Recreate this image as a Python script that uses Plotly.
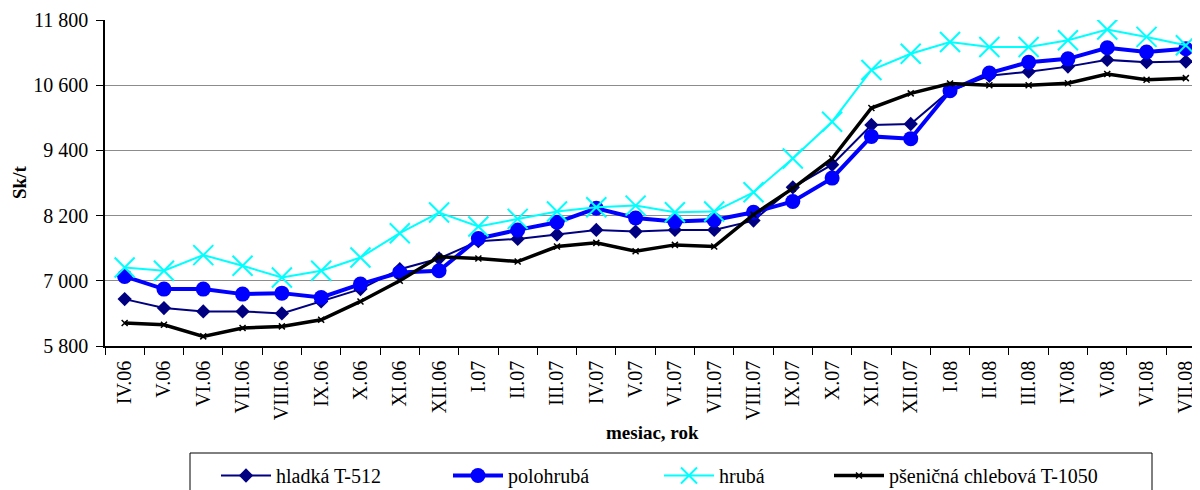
import plotly.graph_objects as go

months = ["IV.06", "V.06", "VI.06", "VII.06", "VIII.06", "IX.06", "X.06", "XI.06", "XII.06",
          "I.07", "II.07", "III.07", "IV.07", "V.07", "VI.07", "VII.07", "VIII.07", "IX.07",
          "X.07", "XI.07", "XII.07", "I.08", "II.08", "III.08", "IV.08", "V.08", "VI.08", "VII.08"]

hladka = [6663, 6498, 6436, 6436, 6400, 6620, 6847, 7214, 7410,
          7730, 7771, 7851, 7937, 7906, 7937, 7937, 8108, 8720,
          9136, 9868, 9886, 10498, 10774, 10849, 10942, 11066, 11023, 11035]
polohruba = [7080, 6847, 6847, 6755, 6773, 6694, 6939, 7153, 7184,
             7778, 7937, 8077, 8335, 8157, 8090, 8120, 8261, 8460,
             8890, 9658, 9616, 10498, 10824, 11023, 11085, 11290, 11210, 11272]
hruba = [7245, 7184, 7472, 7276, 7061, 7184, 7429, 7876, 8256,
         7999, 8139, 8274, 8353, 8384, 8261, 8274, 8629, 9250,
         9928, 10880, 11178, 11396, 11303, 11303, 11427, 11626, 11489, 11334]
psenicna = [6222, 6191, 5977, 6130, 6161, 6283, 6620, 7000, 7441,
            7410, 7354, 7630, 7698, 7545, 7661, 7630, 8218, 8700,
            9250, 10180, 10450, 10631, 10600, 10600, 10637, 10805, 10700, 10730]

y_ticks = [5800, 7000, 8200, 9400, 10600, 11800]
y_tick_text = ["5 800", "7 000", "8 200", "9 400", "10 600", "11 800"]

FONT = "Liberation Serif, Times New Roman, serif"

# page body has an 8px margin; figure is sized to fill the rest of the window
OFF = 8
FW, FH = 1200 - OFF, 490 - OFF
ML, MT, MB = 105 - OFF, 20 - OFF, FH - (346 - OFF)
PW, PH = FW - ML, FH - MT - MB


def px_x(sx):
    return (sx - OFF - ML) / PW


def px_y(sy):
    return (FH - MB - (sy - OFF)) / PH


fig = go.Figure()
fig.add_trace(go.Scatter(
    x=months, y=hladka, name="hladká T-512", mode="lines+markers", legend="legend",
    line=dict(color="#000080", width=2),
    marker=dict(symbol="diamond", size=11, color="#000080")))
fig.add_trace(go.Scatter(
    x=months, y=polohruba, name="polohrubá", mode="lines+markers", legend="legend2",
    line=dict(color="#0000FF", width=4),
    marker=dict(symbol="circle", size=15, color="#0000FF")))
fig.add_trace(go.Scatter(
    x=months, y=hruba, name="hrubá", mode="lines+markers", legend="legend3",
    line=dict(color="#00FFFF", width=2),
    marker=dict(symbol="x-thin-open", size=20, color="#00FFFF",
                line=dict(color="#00FFFF", width=2))))
fig.add_trace(go.Scatter(
    x=months, y=psenicna, name="pšeničná chlebová T-1050", mode="lines+markers", legend="legend4",
    line=dict(color="#000000", width=3.5),
    marker=dict(symbol="x-thin-open", size=6, color="#000000",
                line=dict(color="#000000", width=1.5))))


def leg(sx):
    return dict(orientation="h", xref="container", yref="container",
                x=(sx - OFF) / FW, y=1 - (456 - OFF) / FH, xanchor="left", yanchor="top",
                borderwidth=0, bgcolor="rgba(0,0,0,0)", itemwidth=50,
                font=dict(family=FONT, size=20, color="black"))


fig.update_layout(
    width=FW, height=FH, autosize=False,
    margin=dict(l=ML, r=0, t=MT, b=MB, pad=0),
    paper_bgcolor="white", plot_bgcolor="white",
    font=dict(family=FONT, size=20, color="black"),
    showlegend=True,
    legend=leg(216), legend2=leg(448), legend3=leg(659), legend4=leg(829),
    shapes=[dict(type="rect", xref="paper", yref="paper",
                 x0=px_x(190), x1=px_x(1152), y0=px_y(495), y1=px_y(453),
                 line=dict(color="black", width=1), fillcolor="rgba(0,0,0,0)", layer="below")],
    annotations=[
        dict(text="<b>mesiac, rok</b>", xref="paper", yref="paper",
             x=0.5, y=px_y(432), xanchor="center", yanchor="middle",
             showarrow=False, font=dict(family=FONT, size=19, color="black")),
        dict(text="<b>Sk/t</b>", xref="paper", yref="paper",
             x=px_x(19), y=0.5, xanchor="center", yanchor="middle",
             textangle=-90, showarrow=False, font=dict(family=FONT, size=19, color="black")),
    ],
)
fig.update_xaxes(
    type="category", range=[-0.5, 27.36], automargin=False,
    tickangle=-90, tickson="boundaries", ticks="outside", ticklen=7,
    ticklabelstandoff=5,
    tickcolor="black", showline=True, linecolor="black", linewidth=1.5,
    showgrid=False, tickfont=dict(family=FONT, size=20, color="black"),
)
fig.update_yaxes(
    range=[5800, 11800], tickvals=y_ticks, ticktext=y_tick_text, automargin=False,
    ticks="outside", ticklen=7, tickcolor="black", ticklabelstandoff=4,
    showline=True, linecolor="black", linewidth=1.5,
    showgrid=True, gridcolor="#8c8c8c", gridwidth=1, zeroline=False,
    tickfont=dict(family=FONT, size=20, color="black"),
)

fig.write_html("out.html")
